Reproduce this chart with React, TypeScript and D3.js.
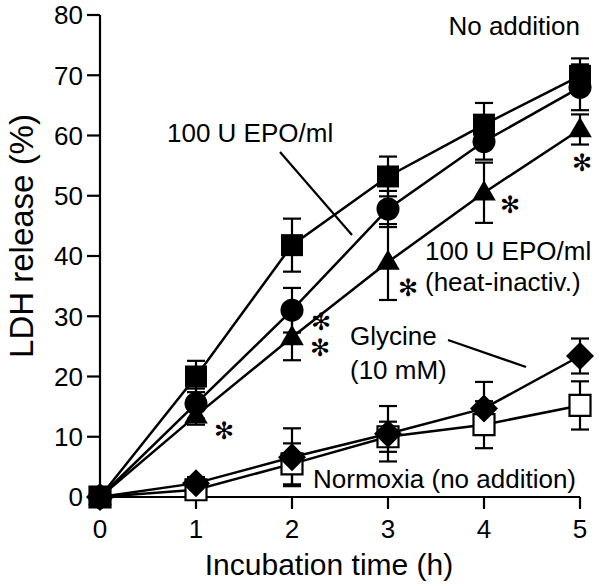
import React from "react";
import * as d3 from "d3";

const hours = [0, 1, 2, 3, 4, 5];
const yTicks = [0, 10, 20, 30, 40, 50, 60, 70, 80];

const noAdditionMean = [0, 20, 41.8, 53.2, 61.8, 69.9];
const noAdditionSE = [0, 2.6, 4.4, 3.3, 3.6, 2.9];
const epoMean = [0, 15.5, 31, 47.8, 59, 68];
const epoSE = [0, 2.5, 3.7, 3, 3, 3.8];
const heatMean = [0, 13.5, 26.5, 39, 50.5, 61];
const heatSE = [0, 1.5, 3.8, 6.3, 5, 2.5];
const glycineMean = [0, 2.3, 6.6, 10.5, 14.7, 23.4];
const glycineSE = [0, 1, 4.8, 4.6, 4.4, 2.9];
const normoxiaMean = [0, 1.2, 5.5, 10, 12, 15.2];
const normoxiaSE = [0, 1, 3.4, 2.5, 3.9, 4];

// significance marks: [series, hour index, dx, dy]
const stars: [string, number, number, number][] = [
  ["heat", 1, 28, 15],
  ["epo", 2, 29, 11],
  ["heat", 2, 28, 10],
  ["heat", 3, 20, 25],
  ["heat", 4, 26, 12],
  ["heat", 5, 2, 33],
];

const W = 600;
const H = 586;
const FONT = "'Liberation Sans', Arial, Helvetica, sans-serif";

export default function App() {
  const x = d3.scaleLinear().domain([0, 5]).range([100, 580]);
  const y = d3.scaleLinear().domain([0, 80]).range([497, 15]);

  const series = [
    { key: "normoxia", mean: normoxiaMean, se: normoxiaSE, shape: "openSquare" },
    { key: "glycine", mean: glycineMean, se: glycineSE, shape: "diamond" },
    { key: "heat", mean: heatMean, se: heatSE, shape: "triangle" },
    { key: "epo", mean: epoMean, se: epoSE, shape: "circle" },
    { key: "noAddition", mean: noAdditionMean, se: noAdditionSE, shape: "square" },
  ];
  const byKey: Record<string, (typeof series)[number]> = {};
  series.forEach((s) => (byKey[s.key] = s));

  const line = d3
    .line<number>()
    .x((_, i) => x(hours[i]))
    .y((d) => y(d));

  const sqSym = d3.symbol().type(d3.symbolSquare).size(22 * 22)();
  const circSym = d3.symbol().type(d3.symbolCircle).size(Math.PI * 11.5 * 11.5)();
  const triSym = d3.symbol().type(d3.symbolTriangle).size(240)();
  const diaSym = "M0,-14L14,0L0,14L-14,0Z";

  const marker = (shape: string, cx: number, cy: number, k: string) => {
    const t = `translate(${cx},${cy})`;
    if (shape === "openSquare")
      return <path key={k} d={d3.symbol().type(d3.symbolSquare).size(21 * 21)()!} transform={t} fill="#fff" stroke="#000" strokeWidth={2.2} />;
    if (shape === "square") return <path key={k} d={sqSym!} transform={t} fill="#000" />;
    if (shape === "circle") return <path key={k} d={circSym!} transform={t} fill="#000" />;
    if (shape === "triangle") return <path key={k} d={triSym!} transform={`translate(${cx},${cy + 1})`} fill="#000" />;
    return <path key={k} d={diaSym} transform={t} fill="#000" />;
  };

  const cap = 9;

  return (
    <svg width={W} height={H} style={{ position: "absolute", left: 0, top: 0, background: "#fff" }} fontFamily={FONT}>
      <rect width={W} height={H} fill="#fff" />
      {/* axes */}
      <line x1={x(0)} x2={x(0)} y1={y(80)} y2={y(0)} stroke="#000" strokeWidth={2.2} />
      <line x1={x(0)} x2={x(5)} y1={y(0)} y2={y(0)} stroke="#000" strokeWidth={2.2} />
      {yTicks.map((t) => (
        <g key={"yt" + t}>
          <line x1={x(0) - 13} x2={x(0)} y1={y(t)} y2={y(t)} stroke="#000" strokeWidth={2.2} />
          <text x={x(0) - 17} y={y(t)} dy="0.36em" textAnchor="end" fontSize={26}>
            {t}
          </text>
        </g>
      ))}
      {hours.map((h) => (
        <g key={"xt" + h}>
          <line x1={x(h)} x2={x(h)} y1={y(0)} y2={y(0) + 12} stroke="#000" strokeWidth={2.2} />
          <text x={x(h)} y={538} textAnchor="middle" fontSize={26}>
            {h}
          </text>
        </g>
      ))}
      <text x={329} y={575} textAnchor="middle" fontSize={30}>
        Incubation time (h)
      </text>
      <text transform={`translate(33,236) rotate(-90)`} textAnchor="middle" fontSize={33}>
        LDH release (%)
      </text>

      {/* lines */}
      {series.map((s) => (
        <path key={"l" + s.key} d={line(s.mean)!} fill="none" stroke="#000" strokeWidth={2.5} />
      ))}
      {/* error bars */}
      {series.map((s) =>
        s.mean.map((m, i) =>
          s.se[i] > 0 ? (
            <g key={"e" + s.key + i} stroke="#000" strokeWidth={2.2}>
              <line x1={x(hours[i])} x2={x(hours[i])} y1={y(m + s.se[i])} y2={y(m - s.se[i])} />
              <line x1={x(hours[i]) - cap} x2={x(hours[i]) + cap} y1={y(m + s.se[i])} y2={y(m + s.se[i])} />
              <line x1={x(hours[i]) - cap} x2={x(hours[i]) + cap} y1={y(m - s.se[i])} y2={y(m - s.se[i])} />
            </g>
          ) : null
        )
      )}
      {/* markers */}
      {series.map((s) => s.mean.map((m, i) => marker(s.shape, x(hours[i]), y(m), "m" + s.key + i)))}

      {/* significance */}
      {stars.map(([k, i, dx, dy], j) => (
        <text key={"s" + j} x={x(hours[i]) + dx} y={y(byKey[k].mean[i]) + dy} dy="0.36em" textAnchor="middle" fontSize={24} fontFamily="'DejaVu Sans', sans-serif">
          ✻
        </text>
      ))}

      {/* annotations */}
      <text x={580} y={35} textAnchor="end" fontSize={26}>No addition</text>
      <text x={167} y={142} fontSize={26}>100 U EPO/ml</text>
      <line x1={280} y1={152} x2={352} y2={235} stroke="#000" strokeWidth={2.2} />
      <text x={425} y={260} fontSize={26}>100 U EPO/ml</text>
      <text x={425} y={291} fontSize={26}>(heat-inactiv.)</text>
      <text x={350} y={345} fontSize={26}>Glycine</text>
      <text x={350} y={379} fontSize={26}>(10 mM)</text>
      <line x1={448} y1={340} x2={526} y2={367} stroke="#000" strokeWidth={2.2} />
      <text x={313} y={488} fontSize={26}>Normoxia (no addition)</text>
    </svg>
  );
}
